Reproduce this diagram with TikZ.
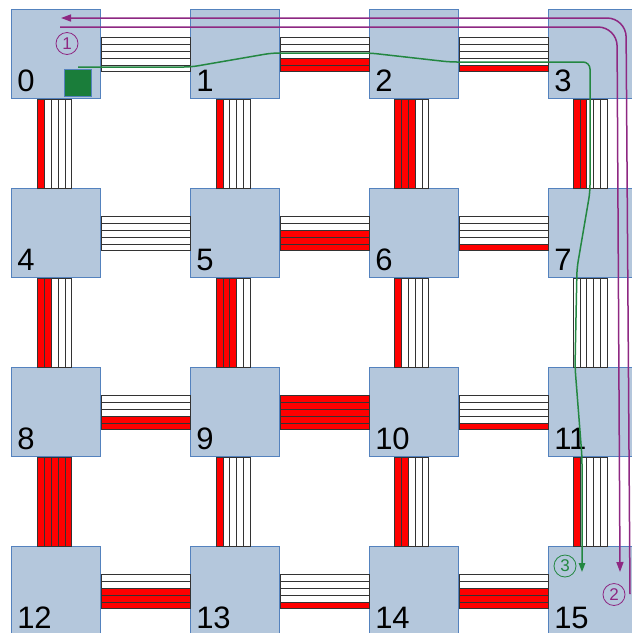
\documentclass[tikz,border=0pt]{standalone}
\usepackage{fontspec}
\setmainfont{Liberation Sans}
\usetikzlibrary{calc,arrows.meta}
\definecolor{routerfill}{RGB}{180,199,220}
\definecolor{routerdraw}{RGB}{84,130,190}
\definecolor{lanered}{RGB}{255,0,0}
\definecolor{pathpurple}{RGB}{142,40,130}
\definecolor{pathgreen}{RGB}{35,135,65}
\definecolor{corefill}{RGB}{26,125,58}
\begin{document}
\begin{tikzpicture}[x=1pt,y=-1pt,
  router/.style={draw=routerdraw, fill=routerfill, line width=0.9pt,
    minimum size=89pt, inner sep=0pt},
  numlabel/.style={anchor=base west, inner sep=0pt,
    font=\fontsize{31}{31}\selectfont},
  core/.style={draw=routerdraw, fill=corefill, line width=0.8pt,
    minimum size=26.5pt, inner sep=0pt},
  lane/.style={draw=black!80, line width=0.8pt},
  circnum/.style={circle, draw, line width=0.8pt, minimum size=22pt,
    inner sep=0pt, font=\fontsize{17}{17}\selectfont},
  purpleroute/.style={draw=pathpurple, line width=1.5pt, rounded corners=19pt,
    -{Triangle[length=10pt,width=7pt]}},
  greenroute/.style={draw=pathgreen, line width=1.5pt, rounded corners=7pt,
    -{Triangle[length=9pt,width=6.5pt]}}
]
\useasboundingbox (0,0) rectangle (632,633);
\clip (0,0) rectangle (632,633);

% 4x4 mesh of routers with their numbers
\foreach \r in {0,...,3} {
  \foreach \c in {0,...,3} {
    \pgfmathtruncatemacro\n{4*\r+\c}
    \node[router] (sq\n) at ({56+179*\c},{54.3+179*\r}) {};
    \node[numlabel] (lab\n) at ($(sq\n.south west)+(6,-7.3)$) {\n};
  }
}

% processing core attached to router 0
\node[core] (core) at (78,82.7) {};

% horizontal links: five lanes each, occupied lanes (red) at the bottom
\foreach \a/\b/\k in {0/1/0, 1/2/2, 2/3/1, 4/5/0, 5/6/3, 6/7/1,
                      8/9/2, 9/10/5, 10/11/1, 12/13/3, 13/14/1, 14/15/3} {
  \foreach \i in {0,...,4} {
    \ifnum\i<\k\relax\def\lanecol{lanered}\else\def\lanecol{white}\fi
    \filldraw[lane, fill=\lanecol]
      ($(sq\a.east)+(0,{17.5-6.8*\i})$) rectangle
      ($(sq\b.west)+(0,{17.5-6.8*(\i+1)})$);
  }
}

% vertical links: five lanes each, occupied lanes (red) on the left
\foreach \a/\b/\k in {0/4/1, 1/5/1, 2/6/3, 3/7/2, 4/8/2, 5/9/3,
                      6/10/1, 7/11/0, 8/12/5, 9/13/1, 10/14/2, 11/15/1} {
  \pgfmathsetmacro\dx{-18.3-0.5*mod(\a,4)}
  \foreach \i in {0,...,4} {
    \ifnum\i<\k\relax\def\lanecol{lanered}\else\def\lanecol{white}\fi
    \filldraw[lane, fill=\lanecol]
      ($(sq\a.south)+({\dx+6.8*\i},0)$) rectangle
      ($(sq\b.north)+({\dx+6.8*(\i+1)},0)$);
  }
}

% route end points
\coordinate (pA0) at (630,594);
\coordinate (pA1) at (626,18);
\coordinate (pA2) at (61,18);
\coordinate (pB0) at (60,27);
\coordinate (pB1) at (617,27);
\coordinate (pB2) at (620,572);
\coordinate (g0) at (78,67);
\coordinate (g9) at (582,572);

% request and reply routes (purple)
\draw[purpleroute] (pA0) -- (pA1) -- (pA2);
\draw[purpleroute] (pB0) -- (pB1) -- (pB2);

% data route (green)
\draw[greenroute] (g0) -- (191,67) -- (272,53) -- (370,53) -- (450,62)
  -- (590,62) -- (590,192) -- (577,268) -- (575,367) -- (582,457) -- (g9);

% step numbers
\node[circnum, draw=pathpurple, text=pathpurple] (c1) at (67,43.5) {1};
\node[circnum, draw=pathpurple, text=pathpurple] (c2) at (614,594.5) {2};
\node[circnum, draw=pathgreen, text=pathgreen] (c3) at (565,566) {3};
\end{tikzpicture}
\end{document}
